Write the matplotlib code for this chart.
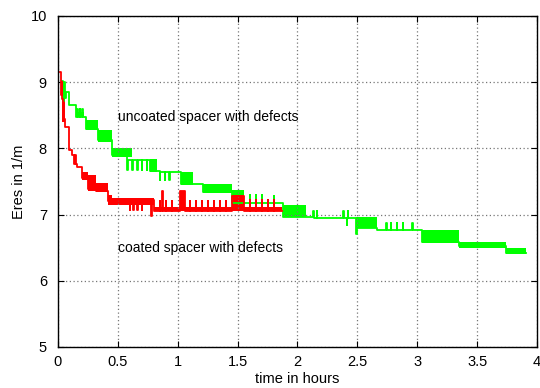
import matplotlib
matplotlib.use("Agg")
import matplotlib.pyplot as plt

# uncoated spacer (green) - main step trace incl. spikes
green_t = [0.035, 0.045, 0.05, 0.055, 0.065, 0.09, 0.15, 0.16, 0.165, 0.18, 0.185,
           0.20, 0.205, 0.23, 0.33, 0.45, 0.58, 0.585, 0.62, 0.625, 0.66, 0.665,
           0.70, 0.705, 0.74, 0.745, 0.77, 0.85, 0.855, 0.89, 0.895, 0.93, 0.935,
           1.03, 1.21, 1.45, 1.60, 1.605, 1.65, 1.655, 1.70, 1.705, 1.80, 1.805,
           1.88, 2.13, 2.135, 2.16, 2.165, 2.38, 2.385, 2.41, 2.415, 2.42, 2.425,
           2.49, 2.50, 2.66, 2.74, 2.745, 2.78, 2.785, 2.83, 2.835, 2.88, 2.885,
           2.96, 2.965, 3.04, 3.35, 3.74, 3.91]
green_v = [9.02, 8.72, 9.00, 8.76, 8.85, 8.66, 8.47, 8.60, 8.47, 8.60, 8.47,
           8.60, 8.47, 8.30, 8.12, 7.90, 7.67, 7.82, 7.67, 7.82, 7.67, 7.82,
           7.67, 7.82, 7.67, 7.82, 7.66, 7.52, 7.64, 7.52, 7.64, 7.52, 7.64,
           7.46, 7.34, 7.17, 7.30, 7.17, 7.30, 7.17, 7.30, 7.17, 7.28, 7.17,
           6.96, 7.05, 6.95, 7.05, 6.95, 7.05, 6.95, 6.85, 6.95, 7.05, 6.95,
           6.70, 6.80, 6.77, 6.87, 6.77, 6.87, 6.77, 6.87, 6.77, 6.87, 6.77,
           6.87, 6.77, 6.58, 6.52, 6.42, 6.42]
# dense jitter bands of the green trace: start, end, low, high
green_band_t0 = [0.15, 0.23, 0.33, 0.45, 0.77, 1.03, 1.21, 1.45, 1.88, 2.49, 3.04, 3.35, 3.74]
green_band_t1 = [0.22, 0.33, 0.45, 0.62, 0.83, 1.13, 1.45, 1.55, 2.07, 2.66, 3.35, 3.74, 3.91]
green_band_lo = [8.47, 8.28, 8.10, 7.87, 7.64, 7.45, 7.33, 7.15, 6.96, 6.80, 6.57, 6.50, 6.40]
green_band_hi = [8.55, 8.43, 8.28, 8.00, 7.84, 7.64, 7.46, 7.37, 7.15, 6.96, 6.77, 6.58, 6.50]

# coated spacer (red)
red_t = [0.02, 0.025, 0.03, 0.035, 0.04, 0.05, 0.06, 0.09, 0.12, 0.13, 0.14, 0.15,
         0.16, 0.20, 0.25, 0.32, 0.42, 0.45, 0.60, 0.605, 0.63, 0.635, 0.66, 0.665,
         0.70, 0.705, 0.78, 0.785, 0.80, 0.85, 0.855, 0.87, 0.875, 0.90, 0.905,
         0.95, 0.955, 1.02, 1.06, 1.10, 1.105, 1.15, 1.155, 1.20, 1.205, 1.25,
         1.255, 1.30, 1.305, 1.35, 1.355, 1.40, 1.405, 1.45, 1.55, 1.60, 1.605,
         1.65, 1.655, 1.70, 1.705, 1.75, 1.755, 1.80, 1.805, 1.87]
red_v = [9.15, 8.80, 9.00, 8.75, 8.60, 8.45, 8.32, 7.97, 7.90, 7.76, 7.90, 7.76,
         7.72, 7.55, 7.38, 7.36, 7.20, 7.22, 7.07, 7.22, 7.07, 7.22, 7.07, 7.22,
         7.07, 7.22, 6.98, 7.22, 7.06, 7.20, 7.06, 7.36, 7.06, 7.20, 7.06,
         7.20, 7.06, 7.36, 7.06, 7.20, 7.06, 7.20, 7.06, 7.20, 7.06, 7.20,
         7.06, 7.20, 7.06, 7.20, 7.06, 7.20, 7.06, 7.28, 7.06, 7.22, 7.06,
         7.22, 7.06, 7.22, 7.06, 7.22, 7.06, 7.22, 7.06, 7.06]
red_band_t0 = [0.03, 0.20, 0.25, 0.32, 0.42, 0.45, 0.80, 1.02, 1.45, 1.55]
red_band_t1 = [0.06, 0.25, 0.32, 0.42, 0.45, 0.80, 1.45, 1.06, 1.55, 1.87]
red_band_lo = [8.40, 7.52, 7.36, 7.34, 7.15, 7.15, 7.06, 7.06, 7.06, 7.06]
red_band_hi = [8.75, 7.64, 7.60, 7.47, 7.30, 7.25, 7.12, 7.36, 7.30, 7.12]

plt.rcParams['font.family'] = ['Liberation Sans', 'DejaVu Sans']

fig = plt.figure(figsize=(5.4, 3.88), dpi=100)
ax = fig.add_axes([0.1074, 0.1057, 0.887, 0.8531])

for t0, t1, lo, hi in zip(green_band_t0, green_band_t1, green_band_lo, green_band_hi):
    ax.fill_between([t0, t1], [lo, lo], [hi, hi], color='#00ff00', lw=0)
ax.plot(green_t, green_v, drawstyle='steps-post', color='#00ff00', lw=1.3)

for t0, t1, lo, hi in zip(red_band_t0, red_band_t1, red_band_lo, red_band_hi):
    ax.fill_between([t0, t1], [lo, lo], [hi, hi], color='#ff0000', lw=0)
ax.plot(red_t, red_v, drawstyle='steps-post', color='#ff0000', lw=1.3)

ax.text(0.5, 8.48, 'uncoated spacer with defects', fontsize=10, va='center')
ax.text(0.5, 6.5, 'coated spacer with defects', fontsize=10, va='center')

ax.set_xlim(0, 4)
ax.set_ylim(5, 10)
ax.set_xticks([0, 0.5, 1, 1.5, 2, 2.5, 3, 3.5, 4])
ax.set_xticklabels(['0', '0.5', '1', '1.5', '2', '2.5', '3', '3.5', '4'])
ax.set_yticks([5, 6, 7, 8, 9, 10])
ax.tick_params(direction='in', top=True, right=True, labelsize=10.5, length=4)
ax.tick_params(axis='x', pad=6)
ax.tick_params(axis='y', pad=8)
ax.grid(True, color='#777777', linestyle=(0, (1, 2)), linewidth=0.9)
for s in ax.spines.values():
    s.set_linewidth(1.0)

ax.set_xlabel('time in hours', fontsize=10.5, labelpad=2)
ax.set_ylabel('Eres in 1/m', fontsize=10.5, labelpad=3)

fig.savefig('out.png', dpi=100)
